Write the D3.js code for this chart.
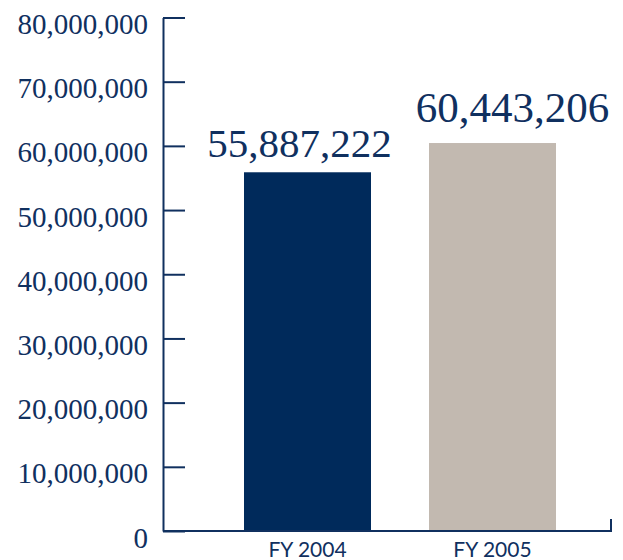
<html>
<head>
  <title>FY 2004 vs FY 2005</title>
  <style>
  body {
    margin: 0;
    background: #fff;
  }
  .ylab text {
    font-family: "Liberation Serif", serif;
    font-size: 29px;
    fill: #10305f;
  }
  .xlab text {
    font-family: Lato, sans-serif;
    font-size: 21px;
    fill: #10305f;
  }
  .val {
    font-family: "Liberation Serif", serif;
    fill: #10305f;
  }
  </style>
</head>
<body>
  <div id='chart'></div>

  <script src="https://d3js.org/d3.v7.min.js"></script>
  <script>
  // data
  var years = ["FY 2004", "FY 2005"]
  var amounts = [55887222, 60443206]
  var barColors = ["#002a5b", "#c2b9b0"]
  var yTicks = [0, 10000000, 20000000, 30000000, 40000000, 50000000, 60000000, 70000000, 80000000]

  var width = 623, height = 560
  var navy = "#10305f"

  var svg = d3.select("#chart").append("svg")
    .attr("width", width)
    .attr("height", height)

  var y = d3.scaleLinear().domain([0, 80000000]).range([531, 17.5])
  var x = d3.scaleBand().domain(years).range([207, 593])
    .paddingInner(0.3135).paddingOuter(0.2)

  // bars
  svg.selectAll(".bar")
    .data(years)
    .enter().append("rect")
      .attr("class", "bar")
      .attr("x", function(d) { return x(d) })
      .attr("width", x.bandwidth())
      .attr("y", function(d, i) { return y(amounts[i]) })
      .attr("height", function(d, i) { return y(0) - y(amounts[i]) })
      .style("fill", function(d, i) { return barColors[i] })

  // y axis, ticks point to the right, labels on the left
  var yAxis = svg.append("g")
    .attr("class", "ylab")
    .attr("transform", "translate(163,0)")
    .call(d3.axisLeft(y).tickValues(yTicks)
      .tickSizeInner(-22).tickSizeOuter(0).tickPadding(15)
      .tickFormat(d3.format(",")))
  yAxis.selectAll("path, line").attr("stroke", navy).attr("stroke-width", 2)
  yAxis.selectAll("text").attr("dy", 16)

  // x axis baseline + end tick
  var base = svg.append("g").attr("stroke", navy).attr("stroke-width", 2).attr("fill", "none")
  base.append("path").attr("d", "M163," + y(0) + "H611V" + (y(0) - 12))

  var xAxis = svg.append("g")
    .attr("class", "xlab")
    .attr("transform", "translate(0," + y(0) + ")")
    .call(d3.axisBottom(x).tickSize(0).tickPadding(0))
  xAxis.select(".domain").remove()
  xAxis.selectAll("text").attr("dy", 0).attr("y", 26)

  // value labels
  var valSize = [41, 43]
  var valShift = [-8, 20]
  var valGap = [15, 21]
  svg.selectAll(".val")
    .data(years)
    .enter().append("text")
      .attr("class", "val")
      .attr("text-anchor", "middle")
      .attr("x", function(d, i) { return x(d) + x.bandwidth() / 2 + valShift[i] })
      .attr("y", function(d, i) { return y(amounts[i]) - valGap[i] })
      .style("font-size", function(d, i) { return valSize[i] + "px" })
      .text(function(d, i) { return d3.format(",")(amounts[i]) })
  </script>
</body>
</html>
